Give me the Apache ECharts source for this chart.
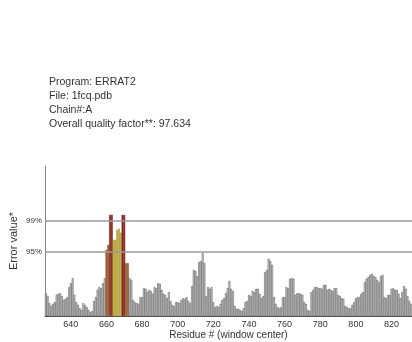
<!DOCTYPE html>
<html>
<head>
<meta charset="utf-8">
<script src="https://cdn.jsdelivr.net/npm/echarts@6/dist/echarts.min.js"></script>
<style>
  html, body { margin: 0; padding: 0; background: #fff; }
  #chart { width: 412px; height: 342px; }
</style>
</head>
<body>
<div id="chart"></div>
<script>
// ERRAT2 per-residue error values (window centres 626..831)
const firstResidue = 626;
const errorValues = [
  4.1, 3.6, 2.3, 1.8, 2.2, 2.5, 3.8, 4.0, 4.1, 3.6, 2.9, 3.1, 3.4, 5.2,
  5.9, 6.8, 3.8, 2.5, 2.0, 1.4, 1.1, 2.3, 2.0, 1.6, 1.1, 0.7, 0.9, 2.7, 3.4, 4.7,
  5.2, 5.0, 5.9, 6.8, 11.9, 12.8, 18.2, 18.2, 13.7, 13.7, 15.5, 15.7, 15.0, 18.2,
  18.2, 9.5, 9.5, 6.8, 6.5, 2.9, 2.5, 2.3, 2.2, 3.4,
  3.4, 5.0, 4.9, 4.3, 4.7, 4.5, 4.0, 5.2, 5.0, 5.9, 5.8, 4.7, 4.0, 3.8, 3.2, 4.3,
  2.7, 2.0, 1.8, 2.5,
  2.5, 2.3, 2.9, 3.2, 3.1, 3.4, 2.7, 2.3, 5.4, 8.3, 8.1, 7.2, 9.7, 9.9, 11.3, 9.5,
  3.6, 5.2, 4.9, 5.2,
  2.5, 1.6, 1.8, 1.6, 2.2, 2.9, 3.2, 4.1, 5.0, 6.3, 4.9, 4.5, 1.8, 1.3, 1.3, 1.1,
  0.9, 1.4, 2.5, 2.7,
  3.8, 3.6, 4.5, 4.3, 4.9, 4.9, 4.0, 3.2, 3.6, 7.9, 8.3, 10.3, 9.9, 9.2, 3.4, 2.2,
  1.6, 1.4, 1.6, 3.4,
  3.4, 5.2, 5.0, 6.7, 6.8, 6.7, 3.8, 4.1, 4.1, 4.0, 3.8, 2.5, 2.2, 1.1, 0.9, 4.3,
  4.7, 5.2, 5.2, 5.0,
  5.0, 4.9, 5.6, 5.6, 4.7, 4.9, 4.7, 4.5, 5.0, 5.0, 3.8, 3.6, 3.2, 3.1, 1.8, 1.6,
  1.4, 1.4, 2.0, 2.5,
  3.2, 3.4, 3.4, 4.0, 4.3, 6.1, 6.7, 7.0, 7.4, 7.6, 7.2, 7.0, 6.5, 6.1, 7.2, 7.4,
  3.4, 3.2, 3.8, 3.8,
  4.9, 5.0, 4.7, 4.7, 4.0, 3.2, 4.3, 5.4, 4.9, 3.6, 2.7, 2.2
];
const residues = errorValues.map((_, i) => String(firstResidue + i));

// rejection limits drawn as horizontal reference lines
const limitNames = ['95%', '99%'];
const limitValues = [11.526, 17.191];

// residues shaded amber next to the flagged windows
const amberResidues = ['660', '661', '671', '672'];

const headerLines = [
  'Program: ERRAT2',
  'File: 1fcq.pdb',
  'Chain#:A',
  'Overall quality factor**: 97.634'
];

const FONT = '"Liberation Sans", Arial, sans-serif';

function barStyle(res, v) {
  if (v > limitValues[1]) return { color: '#a3281e', borderColor: '#5e1410' };
  if (amberResidues.includes(res)) return { color: '#bc6c2e', borderColor: '#6a3a16' };
  if (v > limitValues[0]) return { color: '#e2cc40', borderColor: '#8a7a22' };
  return { color: '#d6d6d6', borderColor: '#4a4a4a' };
}

const chart = echarts.init(document.getElementById('chart'), null, { renderer: 'canvas' });

chart.setOption({
  animation: false,
  backgroundColor: '#ffffff',
  title: {
    text: headerLines.join('\n'),
    left: 44,
    top: 70,
    textStyle: {
      fontFamily: FONT,
      fontSize: 10.5,
      fontWeight: 'normal',
      color: '#333',
      lineHeight: 14
    }
  },
  grid: { left: 43, right: -16, top: 166, bottom: 26, containLabel: false },
  xAxis: {
    type: 'category',
    data: residues,
    boundaryGap: true,
    name: 'Residue # (window center)',
    nameLocation: 'middle',
    nameGap: 11,
    nameTextStyle: { fontFamily: FONT, fontSize: 10, color: '#333' },
    axisLine: { lineStyle: { color: '#555', width: 1 } },
    axisTick: { show: false },
    axisLabel: {
      interval: (i, v) => Number(v) % 20 === 0,
      fontFamily: FONT,
      fontSize: 9,
      color: '#333',
      margin: 4
    },
    splitLine: { show: false }
  },
  yAxis: {
    type: 'value',
    min: 0,
    max: 27,
    name: 'Error value*',
    nameLocation: 'middle',
    nameRotate: 90,
    nameGap: 26,
    nameTextStyle: { fontFamily: FONT, fontSize: 11, color: '#333' },
    axisLine: { show: true, lineStyle: { color: '#888', width: 1 } },
    axisTick: { show: false },
    axisLabel: { show: false },
    splitLine: { show: false }
  },
  series: [{
    type: 'bar',
    barCategoryGap: '0%',
    data: errorValues.map((v, i) => ({
      value: v,
      itemStyle: Object.assign({ borderWidth: 0.5 }, barStyle(residues[i], v))
    })),
    markLine: {
      silent: true,
      symbol: 'none',
      lineStyle: { color: '#9a9a9a', width: 1.5, type: 'solid' },
      label: {
        position: 'start',
        distance: 3,
        fontFamily: FONT,
        fontSize: 8,
        color: '#333',
        formatter: p => p.name
      },
      data: limitValues.map((v, i) => ({ name: limitNames[i], yAxis: v }))
    }
  }]
});
</script>
</body>
</html>
